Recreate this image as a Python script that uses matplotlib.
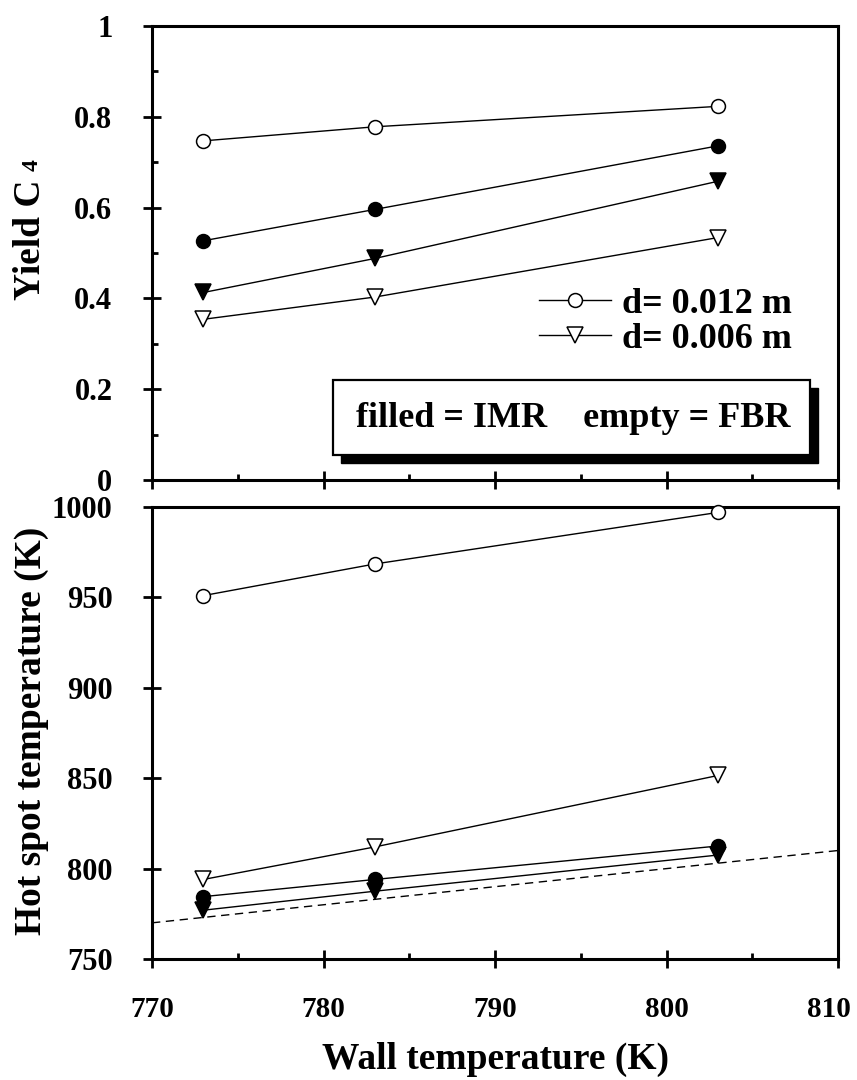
import matplotlib
matplotlib.use('Agg')
import matplotlib.pyplot as plt
from matplotlib.patches import Rectangle
from matplotlib.lines import Line2D
from matplotlib.ticker import MultipleLocator
from matplotlib.transforms import ScaledTranslation

# ---------------- data ----------------
wall_T = [773, 783, 803]
yield_fbr_012 = [0.747, 0.778, 0.823]
yield_imr_012 = [0.527, 0.596, 0.736]
yield_imr_006 = [0.413, 0.488, 0.658]
yield_fbr_006 = [0.354, 0.403, 0.534]
hot_fbr_012 = [951, 968.5, 997]
hot_fbr_006 = [794, 812, 851.5]
hot_imr_012 = [784.5, 794, 812.5]
hot_imr_006 = [777, 787.5, 807.5]
ref_line_x = [770, 810]
ref_line_y = [770, 810]
legend_labels = ['d= 0.012 m', 'd= 0.006 m']
box_text = 'filled = IMR    empty = FBR'
x_ticks = [770, 780, 790, 800, 810]
yield_ticks = [0, 0.2, 0.4, 0.6, 0.8, 1]
yield_ticklabels = ['0', '0.2', '0.4', '0.6', '0.8', '1']
hot_ticks = [750, 800, 850, 900, 950, 1000]

# ---------------- style ----------------
plt.rcParams['font.family'] = ['Liberation Serif', 'DejaVu Serif']
plt.rcParams['font.weight'] = 'bold'

W, H = 857, 1080
fig = plt.figure(figsize=(W / 100, H / 100), dpi=100)


def rect(l, t, r, b):
    return [l / W, 1 - b / H, (r - l) / W, (b - t) / H]


ax1 = fig.add_axes(rect(152, 26, 838, 480))
ax2 = fig.add_axes(rect(152, 507, 838, 959))

MS_C = 10
MS_T = 11
LW = 1.0
EW = 1.1


def series(ax, y, marker, filled, ms):
    ax.plot(wall_T, y, color='k', lw=LW, marker=marker, ms=ms,
            mfc='k' if filled else 'white', mec='k', mew=EW, zorder=3,
            clip_on=False)


for ax, (a, b, c, d) in [(ax1, (yield_fbr_012, yield_imr_012, yield_imr_006, yield_fbr_006)),
                         (ax2, (hot_fbr_012, hot_imr_012, hot_imr_006, hot_fbr_006))]:
    series(ax, a, 'o', False, MS_C)
    series(ax, b, 'o', True, MS_C)
    series(ax, c, 'v', True, MS_T)
    series(ax, d, 'v', False, MS_T)

ax2.plot(ref_line_x, ref_line_y, color='k', lw=1.0, ls=(0, (6, 4)), zorder=2)

for ax in (ax1, ax2):
    ax.set_xlim(770, 810)
    ax.set_xticks(x_ticks)
    ax.xaxis.set_minor_locator(MultipleLocator(5))
    for s in ax.spines.values():
        s.set_linewidth(2.2)
    ax.tick_params(which='major', direction='inout', length=13, width=2.0,
                   labelsize=22, top=False, right=False)
    ax.tick_params(which='minor', direction='in', length=4, width=2.0,
                   top=False, right=False)
    ax.tick_params(axis='y', which='major', pad=22)
    ax.tick_params(axis='x', which='major', pad=20)

ax1.set_ylim(0, 1)
ax1.set_yticks(yield_ticks)
ax1.set_yticklabels(yield_ticklabels)
ax1.yaxis.set_minor_locator(MultipleLocator(0.1))
ax1.tick_params(axis='x', labelbottom=False)

ax2.set_ylim(750, 1000)
ax2.set_yticks(hot_ticks)
ax2.set_xticklabels([str(v) for v in x_ticks])
ax2.tick_params(axis='x', labelsize=21)
last = ax2.get_xticklabels()[-1]
last.set_transform(last.get_transform() + ScaledTranslation(-9 / 100, 0, fig.dpi_scale_trans))

# legend
handles = [Line2D([], [], color='k', lw=LW, marker='o', ms=MS_C, mfc='white', mec='k', mew=EW),
           Line2D([], [], color='k', lw=LW, marker='v', ms=MS_T, mfc='white', mec='k', mew=EW)]
ax1.legend(handles, legend_labels, loc='center right',
           bbox_to_anchor=((792 - 152) / 686, (480 - 321.5) / 454), frameon=False,
           fontsize=26, handlelength=2.0, handletextpad=0.3, labelspacing=0.05,
           borderpad=0, borderaxespad=0)

# annotation box with solid shadow
bl, bt, br, bb = 333, 380, 810, 455
off = 8
fig.patches.append(Rectangle(((bl + off) / W, 1 - (bb + off) / H), (br - bl) / W, (bb - bt) / H,
                             transform=fig.transFigure, facecolor='k', edgecolor='k', zorder=5))
fig.patches.append(Rectangle((bl / W, 1 - bb / H), (br - bl) / W, (bb - bt) / H,
                             transform=fig.transFigure, facecolor='white', edgecolor='k',
                             lw=1.6, zorder=6))
fig.text(573 / W, 1 - 427 / H, box_text, ha='center', va='baseline', fontsize=26,
         fontweight='bold', zorder=7)

# axis labels
fig.text(40 / W, 1 - 180 / H, 'Yield C', rotation=90, rotation_mode='anchor',
         ha='right', va='baseline', fontsize=27, fontweight='bold')
fig.text(38 / W, 1 - 171 / H, '4', rotation=90, rotation_mode='anchor',
         ha='left', va='baseline', fontsize=17, fontweight='bold')
fig.text(41 / W, 1 - 731 / H, 'Hot spot temperature (K)', rotation=90, rotation_mode='anchor',
         ha='center', va='baseline', fontsize=27, fontweight='bold')
fig.text(495 / W, 1 - 1069 / H, 'Wall temperature (K)', ha='center', va='baseline',
         fontsize=27, fontweight='bold')

fig.savefig('out.png', dpi=100)
